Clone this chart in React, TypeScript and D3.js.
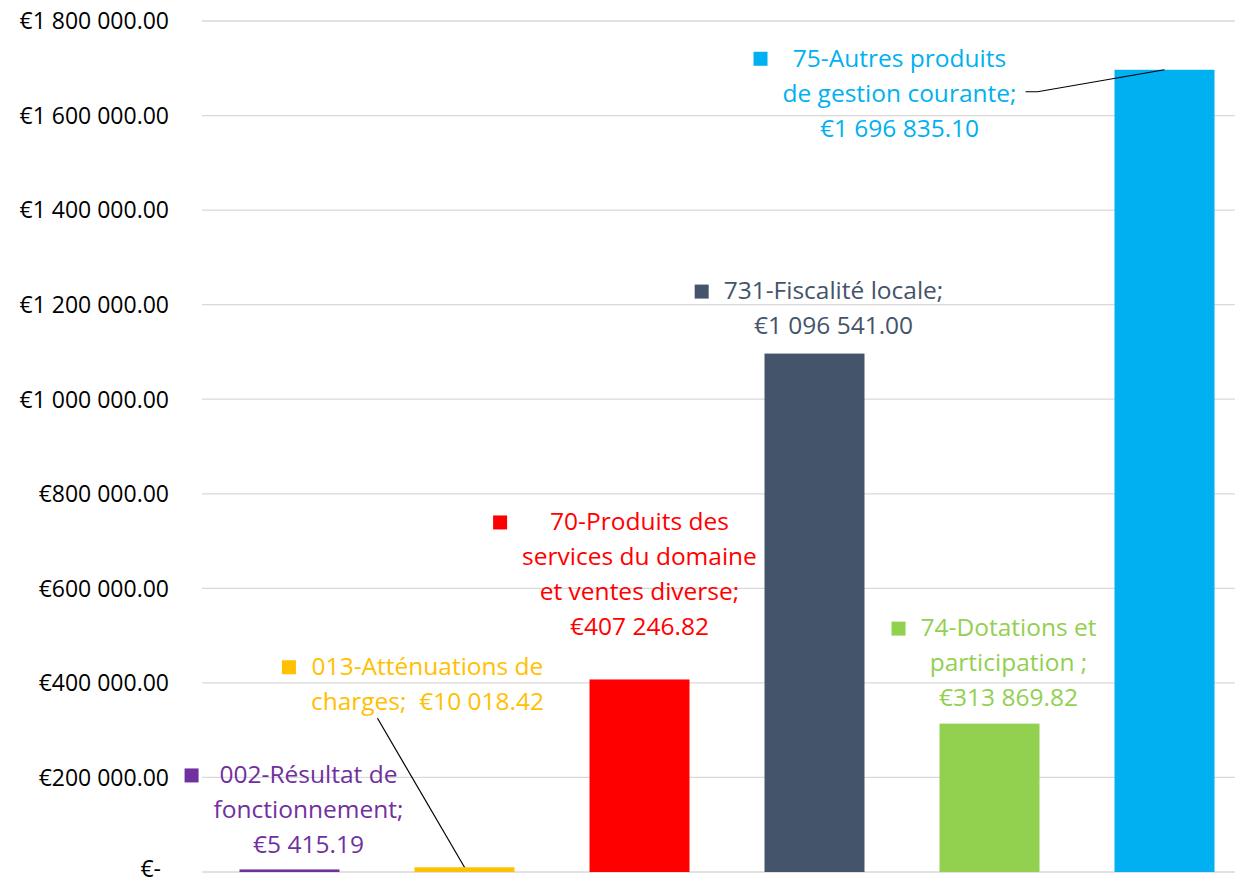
import React, { useEffect, useRef } from 'react';
import * as d3 from 'd3';

// chart data
const categories = ['002', '013', '70', '731', '74', '75'];
const values = [5415.19, 10018.42, 407246.82, 1096541.0, 313869.82, 1696835.1];
const colors = ['#7030A0', '#FFC000', '#FF0000', '#44546A', '#92D050', '#00B0F0'];
const yTicks = [0, 200000, 400000, 600000, 800000, 1000000, 1200000, 1400000, 1600000, 1800000];
const labelLines = [
  ['002-Résultat de', 'fonctionnement;', '€5 415.19'],
  ['013-Atténuations de', 'charges;  €10 018.42'],
  ['70-Produits des', 'services du domaine', 'et ventes diverse;', '€407 246.82'],
  ['731-Fiscalité locale;', '€1 096 541.00'],
  ['74-Dotations et', 'participation ;', '€313 869.82'],
  ['75-Autres produits', 'de gestion courante;', '€1 696 835.10'],
];

// label placement, relative to the bar's top centre (px)
const labelOffsets = [
  { dx: 19, dy: -95 },
  { dx: -37, dy: -201 },
  { dx: 0, dy: -158 },
  { dx: 19, dy: -63 },
  { dx: 19, dy: -96 },
  { dx: -265, dy: -12 },
];
// leader line start, relative to the label's first line centre (px); null = no leader
const leaderStarts: ({ x: number; y: number; elbow?: number } | null)[] = [
  null,
  { x: -50, y: 52 },
  null,
  null,
  null,
  { x: 126, y: 34, elbow: 12 },
];

const WIDTH = 1235;
const HEIGHT = 883;
const FONT = '"Open Sans", sans-serif';

function App() {
  const svgRef = useRef<SVGSVGElement>(null);

  useEffect(() => {
    const svg = d3.select(svgRef.current);
    svg.selectAll('*').remove();

    const locale = d3.formatLocale({ decimal: '.', thousands: ' ', grouping: [3], currency: ['€', ''] });
    const fmt = locale.format(',.2f');

    const x = d3.scaleBand<string>()
      .domain(categories)
      .range([202, 1252])
      .paddingInner(0.4286)
      .paddingOuter(0.2143);

    const y = d3.scaleLinear()
      .domain([0, 1800000])
      .range([872, 21]);

    // grid lines
    svg.append('g')
      .selectAll('line')
      .data(yTicks)
      .enter().append('line')
      .attr('x1', 202)
      .attr('x2', 1252)
      .attr('y1', d => y(d))
      .attr('y2', d => y(d))
      .attr('stroke', '#d9d9d9')
      .attr('stroke-width', 1.3);

    // y tick labels
    svg.append('g')
      .selectAll('text')
      .data(yTicks)
      .enter().append('text')
      .attr('x', d => (d === 0 ? 161 : 169))
      .attr('y', d => y(d))
      .attr('dy', d => (d === 0 ? '0.2em' : '0.36em'))
      .attr('text-anchor', 'end')
      .style('font-family', FONT)
      .style('font-size', '23px')
      .style('fill', '#000')
      .text(d => (d === 0 ? '€-' : '€' + fmt(d)));

    // bars
    svg.append('g')
      .selectAll('rect')
      .data(values)
      .enter().append('rect')
      .attr('x', (d, i) => x(categories[i]) as number)
      .attr('y', d => y(d))
      .attr('width', x.bandwidth())
      .attr('height', d => y(0) - y(d))
      .attr('fill', (d, i) => colors[i]);

    // data labels
    values.forEach((v, i) => {
      const cx = (x(categories[i]) as number) + x.bandwidth() / 2 + labelOffsets[i].dx;
      const top = y(v);
      const ly = top + labelOffsets[i].dy;
      const lineH = 35;

      const g = svg.append('g');
      const texts = g.selectAll('text')
        .data(labelLines[i])
        .enter().append('text')
        .attr('x', cx)
        .attr('y', (d, j) => ly + j * lineH)
        .attr('dy', '0.36em')
        .attr('text-anchor', 'middle')
        .style('font-family', FONT)
        .style('font-size', '24.5px')
        .style('fill', colors[i])
        .style('white-space', 'pre')
        .text(d => d);

      let maxW = 0;
      texts.each(function () {
        const w = (this as SVGTextElement).getComputedTextLength();
        if (w > maxW) maxW = w;
      });

      // legend key square
      g.append('rect')
        .attr('x', cx - maxW / 2 - 29)
        .attr('y', ly - 6)
        .attr('width', 14)
        .attr('height', 14)
        .attr('fill', colors[i]);

      const ls = leaderStarts[i];
      if (ls) {
        const pts: [number, number][] = [[cx + ls.x, ly + ls.y]];
        if (ls.elbow) pts.push([cx + ls.x + ls.elbow, ly + ls.y]);
        pts.push([(x(categories[i]) as number) + x.bandwidth() / 2, top]);
        svg.append('path')
          .attr('d', d3.line()(pts))
          .attr('fill', 'none')
          .attr('stroke', '#000')
          .attr('stroke-width', 1.2);
      }
    });
  }, []);

  return (
    <svg
      ref={svgRef}
      width={WIDTH}
      height={HEIGHT}
      style={{ position: 'absolute', left: 0, top: 0, background: '#fff' }}
    />
  );
}

export default App;
